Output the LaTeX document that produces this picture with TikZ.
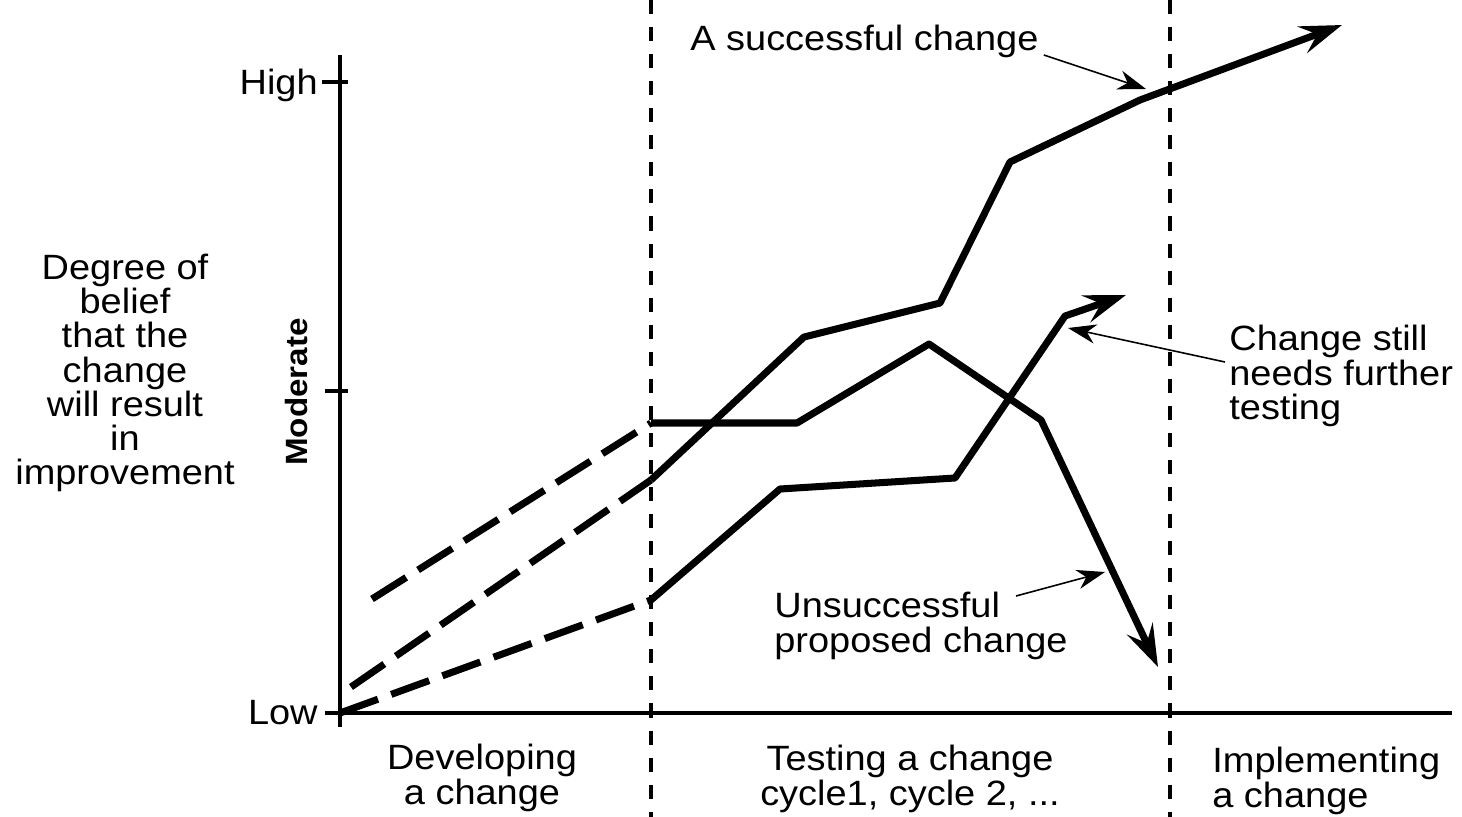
\documentclass[tikz,border=0pt]{standalone}
\usepackage{fontspec}
\setmainfont{Liberation Sans}[FakeStretch=1.08]
\usetikzlibrary{arrows.meta,positioning}

\tikzset{
  lbl/.style={font=\fontsize{20}{19.5}\selectfont, inner sep=0pt},
  axisline/.style={line width=2pt},
  phase/.style={line width=2pt, dash pattern=on 8pt off 7.4pt},
  curve/.style={line width=4pt, line join=round},
  plan/.style={curve, dash pattern=on 23pt off 8pt},
  bigtip/.style={-{Stealth[length=24pt,width=16pt,inset=9pt]}},
  note/.style={line width=0.9pt, -{Stealth[length=16pt,width=11pt,inset=5pt]}},
}

\begin{document}
\begin{tikzpicture}[x=0.02cm,y=-0.02cm]
\useasboundingbox (0,0) rectangle (1462,817);

% axes
\draw[axisline] (340,55) -- (340,727);
\draw[axisline] (325,713) -- (1452,713);
\draw[axisline] (322,82) -- (348,82);
\draw[axisline] (325,391) -- (348,391);
\node[lbl, anchor=east] (high) at (318,85) {High};
\node[lbl, anchor=east] (low) at (318,713) {Low};
\node[lbl, font=\fontsize{17.5}{17.5}\selectfont\bfseries, rotate=90] (moderate) at (297,392) {Moderate};
\node[lbl, align=center] (belief) at (125,373) {Degree of\\belief\\that the\\change\\will result\\in\\improvement};

% phases
\draw[phase] (651,0) -- (651,817);
\draw[phase] (1170,0) -- (1170,817);
\node[lbl, align=center] (develop) at (482,778) {Developing\\a change};
\node[lbl, align=center] (testing) at (910,779) {Testing a change\\cycle1, cycle 2, ...};
\node[lbl, anchor=west, align=left] (implement) at (1212,781) {Implementing\\a change};

% successful change
\coordinate (s0) at (351,687);
\coordinate (s1) at (651,480);
\coordinate (s2) at (804,337);
\coordinate (s3) at (940,303);
\coordinate (s4) at (1010,162);
\coordinate (s5) at (1140,100);
\coordinate (s6) at (1342,25);
\draw[plan] (s0) -- (s1);
\draw[curve, bigtip] (s1) -- (s2) -- (s3) -- (s4) -- (s5) -- (s6);

% unsuccessful change
\coordinate (u0) at (372,599);
\coordinate (u1) at (651,423);
\coordinate (u2) at (797,423);
\coordinate (u3) at (929,344);
\coordinate (u4) at (1041,420);
\coordinate (u5) at (1158,667);
\draw[plan] (u0) -- (u1);
\draw[curve, bigtip] (u1) -- (u2) -- (u3) -- (u4) -- (u5);

% needs further testing
\coordinate (f0) at (340,713);
\coordinate (f1) at (651,600);
\coordinate (f2) at (780,489);
\coordinate (f3) at (955,478);
\coordinate (f4) at (1065,316);
\coordinate (f5) at (1126,295);
\draw[plan] (f0) -- (f1);
\draw[curve, bigtip] (f1) -- (f2) -- (f3) -- (f4) -- (f5);

% notes
\node[lbl, anchor=west] (succ) at (690,41) {A successful change};
\node[lbl, anchor=west, align=left] (further) at (1229,376) {Change still\\needs further\\testing};
\node[lbl, anchor=west, align=left] (unsucc) at (774,626) {Unsuccessful\\proposed change};
\coordinate (succtip) at (1146,89);
\coordinate (furthertip) at (1068,328);
\coordinate (unsucctip) at (1105,572);
\draw[note] ([shift={(5,14)}]succ.east) -- (succtip);
\draw[note] ([shift={(-4,-14)}]further.west) -- (furthertip);
\draw[note] ([shift={(-52,-30)}]unsucc.east) -- (unsucctip);
\end{tikzpicture}
\end{document}
